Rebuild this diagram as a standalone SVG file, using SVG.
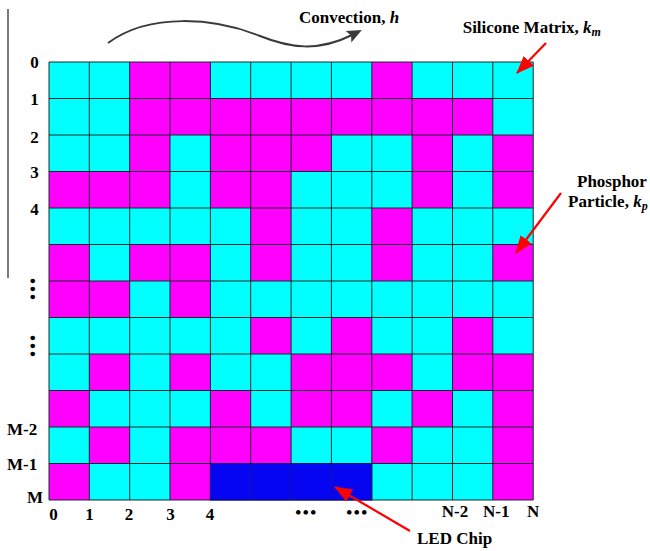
<svg xmlns="http://www.w3.org/2000/svg" width="650" height="551" viewBox="0 0 650 551">
<style>
text{font-family:"Liberation Serif","Times New Roman",serif;font-weight:bold;font-size:17px;fill:#000}
.it{font-style:italic}
.sub{font-style:italic;font-size:12px}
.m{fill:#FF00FF}
.grid{fill:none;stroke:#1a2a2a;stroke-width:1}
.red{stroke:#FF0000;stroke-width:2.2;fill:none}
.mid{text-anchor:middle}
</style>
<defs>
<marker id="ra" viewBox="0 0 18 14" refX="17" refY="7" markerWidth="18" markerHeight="14" orient="auto" markerUnits="userSpaceOnUse"><path d="M0,0 L18,7 L0,14 z" fill="#FF0000"/></marker>
<marker id="ga" viewBox="0 0 15 13" refX="4" refY="6.5" markerWidth="15" markerHeight="13" orient="auto" markerUnits="userSpaceOnUse"><path d="M0,0 L15,6.5 L0,13 L3,6.5 z" fill="#3a3a3a"/></marker>
</defs>
<g id="frame"><line x1="8" y1="9" x2="8" y2="278" stroke="#333" stroke-width="1.3"/></g>
<g id="mesh">
<rect x="49" y="62" width="484.2" height="438" fill="#00FFFF"/>
<rect class="m" x="129.7" y="62" width="80.7" height="36.5"/><rect class="m" x="371.8" y="62" width="40.3" height="36.5"/>
<rect class="m" x="129.7" y="98.5" width="363.1" height="36.5"/>
<rect class="m" x="129.7" y="135" width="40.3" height="36.5"/><rect class="m" x="210.4" y="135" width="121" height="36.5"/><rect class="m" x="412.1" y="135" width="40.4" height="36.5"/><rect class="m" x="492.8" y="135" width="40.4" height="36.5"/>
<rect class="m" x="49" y="171.5" width="121" height="36.5"/><rect class="m" x="210.4" y="171.5" width="80.7" height="36.5"/><rect class="m" x="412.1" y="171.5" width="40.4" height="36.5"/><rect class="m" x="492.8" y="171.5" width="40.4" height="36.5"/>
<rect class="m" x="250.7" y="208" width="40.4" height="36.5"/><rect class="m" x="371.8" y="208" width="40.3" height="36.5"/>
<rect class="m" x="49" y="244.5" width="40.3" height="36.5"/><rect class="m" x="129.7" y="244.5" width="80.7" height="36.5"/><rect class="m" x="250.7" y="244.5" width="40.4" height="36.5"/><rect class="m" x="371.8" y="244.5" width="40.3" height="36.5"/><rect class="m" x="492.8" y="244.5" width="40.4" height="36.5"/>
<rect class="m" x="49" y="281" width="80.7" height="36.5"/><rect class="m" x="170" y="281" width="40.4" height="36.5"/>
<rect class="m" x="250.7" y="317.5" width="40.4" height="36.5"/><rect class="m" x="331.4" y="317.5" width="40.4" height="36.5"/><rect class="m" x="452.5" y="317.5" width="40.3" height="36.5"/>
<rect class="m" x="89.3" y="354" width="40.4" height="36.5"/><rect class="m" x="170" y="354" width="40.4" height="36.5"/><rect class="m" x="291.1" y="354" width="121" height="36.5"/><rect class="m" x="452.5" y="354" width="80.7" height="36.5"/>
<rect class="m" x="49" y="390.5" width="40.3" height="36.5"/><rect class="m" x="210.4" y="390.5" width="40.3" height="36.5"/><rect class="m" x="291.1" y="390.5" width="80.7" height="36.5"/><rect class="m" x="412.1" y="390.5" width="40.4" height="36.5"/><rect class="m" x="492.8" y="390.5" width="40.4" height="36.5"/>
<rect class="m" x="89.3" y="427" width="40.4" height="36.5"/><rect class="m" x="170" y="427" width="121.1" height="36.5"/><rect class="m" x="371.8" y="427" width="40.3" height="36.5"/><rect class="m" x="492.8" y="427" width="40.4" height="36.5"/>
<rect class="m" x="49" y="463.5" width="40.3" height="36.5"/><rect class="m" x="170" y="463.5" width="40.4" height="36.5"/><rect class="m" x="492.8" y="463.5" width="40.4" height="36.5"/>
<path class="grid" d="M49,62H533.2M49,98.5H533.2M49,135H533.2M49,171.5H533.2M49,208H533.2M49,244.5H533.2M49,281H533.2M49,317.5H533.2M49,354H533.2M49,390.5H533.2M49,427H533.2M49,463.5H533.2M49,500H533.2
M49,62V500M89.3,62V500M129.7,62V500M170,62V500M210.4,62V500M250.7,62V463.5M291.1,62V463.5M331.4,62V463.5M371.8,62V500M412.1,62V500M452.5,62V500M492.8,62V500M533.2,62V500"/>
</g>
<g id="led-chip">
<rect x="210.4" y="463.5" width="161.4" height="36.5" fill="#0505F2" stroke="#111166" stroke-width="1"/>
<path d="M250.7,464V499.5M291.1,464V499.5M331.4,464V499.5" stroke="#1515a0" stroke-width="1" fill="none"/>
</g>
<g id="labels">
<text class="mid" x="34.5" y="68">0</text>
<text class="mid" x="34.5" y="105">1</text>
<text class="mid" x="34.5" y="142.5">2</text>
<text class="mid" x="34.5" y="178">3</text>
<text class="mid" x="34.5" y="215">4</text>
<text class="mid" transform="translate(32.3,290) rotate(90)" x="0" y="5.5" letter-spacing="2">•••</text>
<text class="mid" transform="translate(32.3,347) rotate(90)" x="0" y="5.5" letter-spacing="2">•••</text>
<text x="7" y="435">M-2</text>
<text x="7" y="470">M-1</text>
<text x="27" y="503">M</text>
<text class="mid" x="53.5" y="520">0</text>
<text class="mid" x="89.5" y="520">1</text>
<text class="mid" x="129" y="520">2</text>
<text class="mid" x="170.5" y="520">3</text>
<text class="mid" x="210" y="520">4</text>
<text class="mid" x="306.5" y="518" letter-spacing="1.5">•••</text>
<text class="mid" x="357.5" y="518" letter-spacing="1.5">•••</text>
<text x="441.7" y="517">N-2</text>
<text x="483" y="517">N-1</text>
<text x="527" y="517">N</text>
</g>
<g id="convection">
<text x="299" y="23">Convection, <tspan class="it">h</tspan></text>
</g>
<g id="silicone-matrix">
<text x="462.7" y="33">Silicone Matrix, <tspan class="it">k</tspan><tspan class="sub" dy="3">m</tspan></text>
</g>
<g id="phosphor-particle">
<text x="577" y="187">Phosphor</text>
<text x="568" y="207">Particle, <tspan class="it">k</tspan><tspan class="sub" dy="3">p</tspan></text>
</g>
<g id="led-label">
<text x="417" y="544">LED Chip</text>
</g>
<g id="connectors">
<path d="M108,43 C150,12 215,18 260,36 C290,48 318,52 352,35" fill="none" stroke="#3a3a3a" stroke-width="2" marker-end="url(#ga)"/>
<line class="red" x1="546" y1="43" x2="517" y2="73" marker-end="url(#ra)"/>
<line class="red" x1="561" y1="193" x2="516" y2="253" marker-end="url(#ra)"/>
<line class="red" x1="410" y1="531" x2="335" y2="487" marker-end="url(#ra)"/>
</g>
</svg>
